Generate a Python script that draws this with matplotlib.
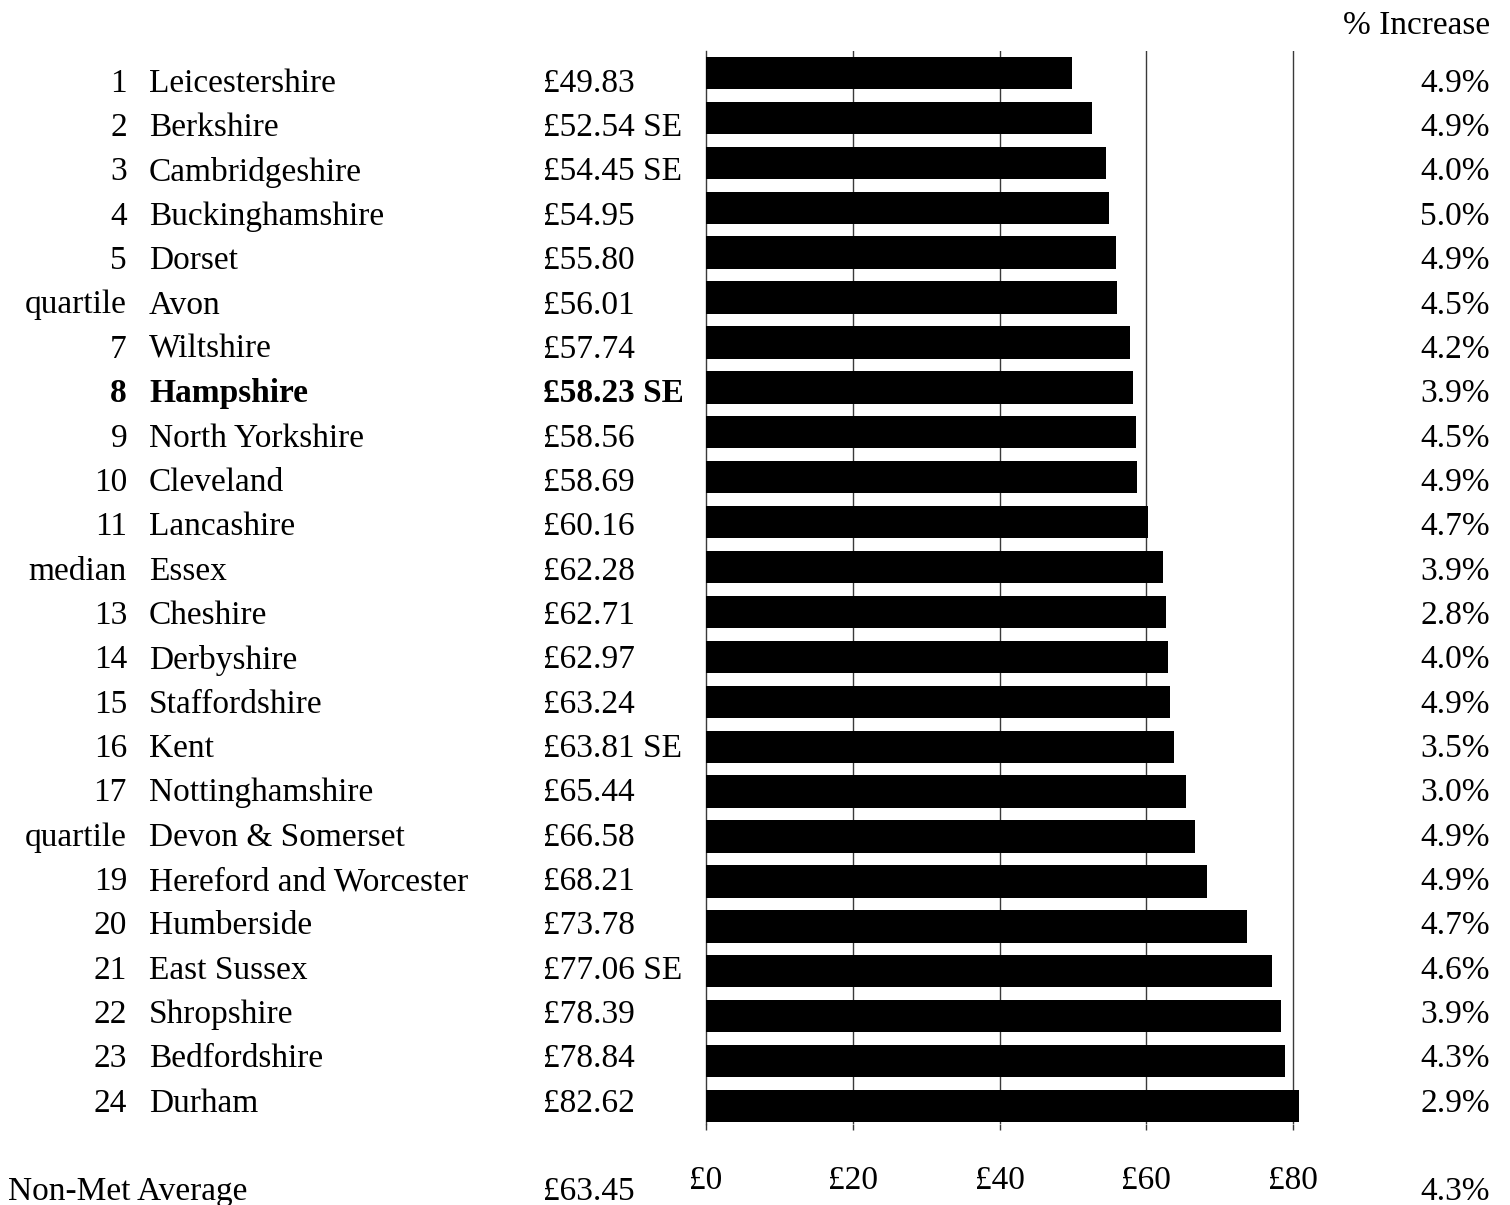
import matplotlib
matplotlib.use('Agg')
import matplotlib.pyplot as plt

plt.rcParams['font.family'] = ['Liberation Serif', 'DejaVu Serif']

ranks = ['1', '2', '3', '4', '5', 'quartile', '7', '8', '9', '10', '11', 'median',
         '13', '14', '15', '16', '17', 'quartile', '19', '20', '21', '22', '23', '24']
names = ['Leicestershire', 'Berkshire', 'Cambridgeshire', 'Buckinghamshire', 'Dorset',
         'Avon', 'Wiltshire', 'Hampshire', 'North Yorkshire', 'Cleveland', 'Lancashire',
         'Essex', 'Cheshire', 'Derbyshire', 'Staffordshire', 'Kent', 'Nottinghamshire',
         'Devon & Somerset', 'Hereford and Worcester', 'Humberside', 'East Sussex',
         'Shropshire', 'Bedfordshire', 'Durham']
values = [49.83, 52.54, 54.45, 54.95, 55.80, 56.01, 57.74, 58.23, 58.56, 58.69, 60.16,
          62.28, 62.71, 62.97, 63.24, 63.81, 65.44, 66.58, 68.21, 73.78, 77.06, 78.39,
          78.84, 82.62]
south_east = ['', 'SE', 'SE', '', '', '', '', 'SE', '', '', '', '', '', '', '', 'SE',
              '', '', '', '', 'SE', '', '', '']
pct_increase = [4.9, 4.9, 4.0, 5.0, 4.9, 4.5, 4.2, 3.9, 4.5, 4.9, 4.7, 3.9, 2.8, 4.0,
                4.9, 3.5, 3.0, 4.9, 4.9, 4.7, 4.6, 3.9, 4.3, 2.9]
highlight = 'Hampshire'
avg_label = 'Non-Met Average'
avg_value = 63.45
avg_pct = 4.3
xticks = [0, 20, 40, 60, 80]

fs = 24
W, H = 1510, 1205
fig = plt.figure(figsize=(W / 100, H / 100), dpi=100)
ax = fig.add_axes([706 / W, 1 - 1124 / H, (1299 - 706) / W, (1124 - 51) / H])

rows = list(range(len(names)))
ax.barh(rows, values, height=0.72, color='black', zorder=3)
ax.set_xlim(0, 80.8)
ax.set_ylim(23.4, -0.49)

# thin vertical gridlines, no frame except the zero line
for x in xticks[1:]:
    ax.axvline(x, color='#3a3a3a', lw=1.0, zorder=1)
for s in ['top', 'right', 'bottom']:
    ax.spines[s].set_visible(False)
ax.spines['left'].set_color('#3a3a3a')
ax.spines['left'].set_linewidth(1.0)
ax.set_yticks([])
ax.set_xticks(xticks)
ax.set_xticklabels(['£%d' % v for v in xticks], fontsize=fs)
ax.tick_params(axis='x', length=4, width=1.0, color='#3a3a3a', pad=26)

# table columns to the left/right of the bars
def row_y(i):
    return 1 - (80 + i * 44.35) / H

for i in rows:
    w = 'bold' if names[i] == highlight else 'normal'
    price = '£%.2f' % values[i] + (' ' + south_east[i] if south_east[i] else '')
    y = row_y(i)
    fig.text(127 / W, y, ranks[i], ha='right', va='center_baseline', fontsize=fs, fontweight=w)
    fig.text(149 / W, y, names[i], ha='left', va='center_baseline', fontsize=fs, fontweight=w)
    fig.text(543 / W, y, price, ha='left', va='center_baseline', fontsize=fs, fontweight=w)
    fig.text(1490 / W, y, '%.1f%%' % pct_increase[i], ha='right', va='center_baseline', fontsize=fs)

fig.text(1490 / W, 1 - 22 / H, '% Increase', ha='right', va='center_baseline', fontsize=fs)
fig.text(8 / W, 1 - 1188 / H, avg_label, ha='left', va='center_baseline', fontsize=fs)
fig.text(543 / W, 1 - 1188 / H, '£%.2f' % avg_value, ha='left', va='center_baseline', fontsize=fs)
fig.text(1490 / W, 1 - 1188 / H, '%.1f%%' % avg_pct, ha='right', va='center_baseline', fontsize=fs)

fig.savefig('out.png', dpi=100)
